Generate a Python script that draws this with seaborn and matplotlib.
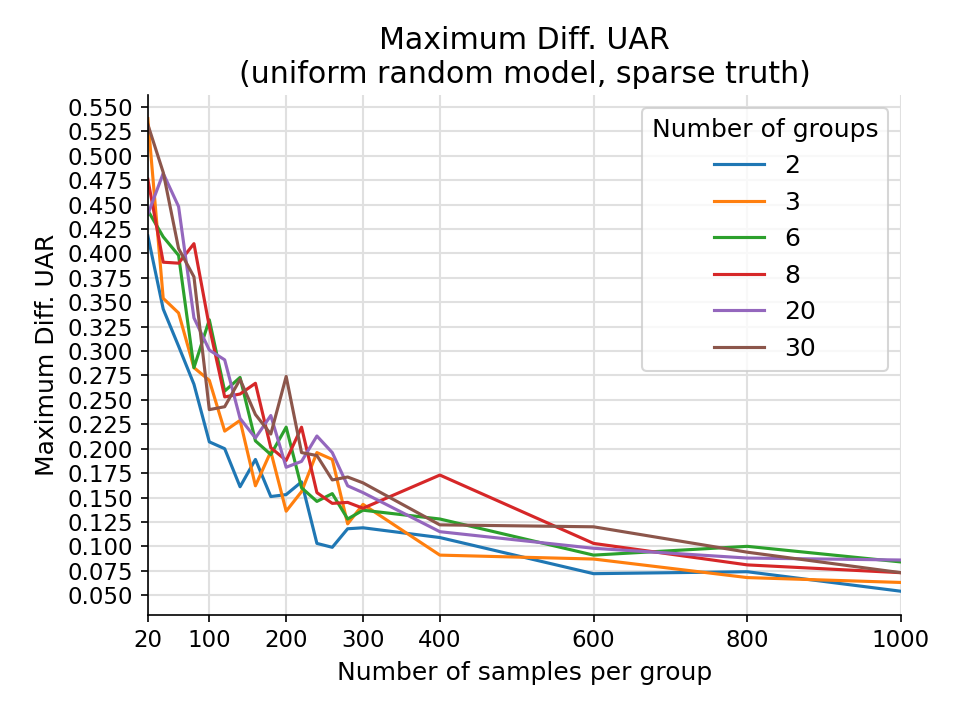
import numpy as np
import pandas as pd
import matplotlib
matplotlib.use("Agg")
import matplotlib.pyplot as plt
import seaborn as sns

# samples per group (x) and max diff UAR per number of groups
samples = [20, 40, 60, 80, 100, 120, 140, 160, 180, 200, 220, 240, 260, 280, 300, 400, 600, 800, 1000]

uar_2 = [0.418, 0.343, 0.305, 0.266, 0.207, 0.200, 0.161, 0.189, 0.151, 0.153,
         0.166, 0.103, 0.099, 0.118, 0.119, 0.109, 0.072, 0.074, 0.054]
uar_3 = [0.538, 0.354, 0.339, 0.283, 0.270, 0.218, 0.229, 0.162, 0.197, 0.136,
         0.156, 0.196, 0.189, 0.123, 0.143, 0.091, 0.087, 0.068, 0.063]
uar_6 = [0.444, 0.417, 0.398, 0.283, 0.332, 0.259, 0.273, 0.208, 0.194, 0.222,
         0.160, 0.146, 0.154, 0.128, 0.137, 0.128, 0.091, 0.100, 0.084]
uar_8 = [0.476, 0.391, 0.390, 0.410, 0.325, 0.253, 0.256, 0.267, 0.201, 0.188,
         0.222, 0.155, 0.144, 0.145, 0.139, 0.173, 0.103, 0.081, 0.073]
uar_20 = [0.440, 0.482, 0.448, 0.334, 0.301, 0.291, 0.231, 0.211, 0.234, 0.181,
          0.187, 0.213, 0.196, 0.162, 0.155, 0.115, 0.098, 0.088, 0.086]
uar_30 = [0.532, 0.483, 0.405, 0.376, 0.240, 0.243, 0.271, 0.235, 0.215, 0.274,
          0.196, 0.193, 0.168, 0.171, 0.165, 0.122, 0.120, 0.094, 0.073]

groups = ["2", "3", "6", "8", "20", "30"]
series = [uar_2, uar_3, uar_6, uar_8, uar_20, uar_30]

x_ticks = [20, 100, 200, 300, 400, 600, 800, 1000]
y_ticks = np.arange(0.05, 0.5501, 0.025)

# long format for seaborn
rows = []
for g, vals in zip(groups, series):
    for s, v in zip(samples, vals):
        rows.append({"samples": s, "uar": v, "groups": g})
df = pd.DataFrame(rows)

fig, ax = plt.subplots(figsize=(6.4, 4.8), dpi=150)

sns.lineplot(data=df, x="samples", y="uar", hue="groups", hue_order=groups,
             palette="tab10", ax=ax)

ax.grid(True, color="#e0e0e0", linewidth=1.0)
ax.set_axisbelow(True)
ax.set_xlim(20, 1000)
ax.set_xticks(x_ticks)
ax.set_yticks(y_ticks)
ax.set_yticklabels([f"{t:.3f}" for t in y_ticks])
ax.tick_params(labelsize=11)
ax.set_xlabel("Number of samples per group", fontsize=12)
ax.set_ylabel("Maximum Diff. UAR", fontsize=12)
ax.set_title("Maximum Diff. UAR\n(uniform random model, sparse truth)", fontsize=14.4)
sns.despine(ax=ax)

ax.legend(title="Number of groups", loc="upper right", fontsize=12, title_fontsize=12)

fig.subplots_adjust(left=0.154, right=0.9385, top=0.868, bottom=0.146)
fig.savefig("out.png")
